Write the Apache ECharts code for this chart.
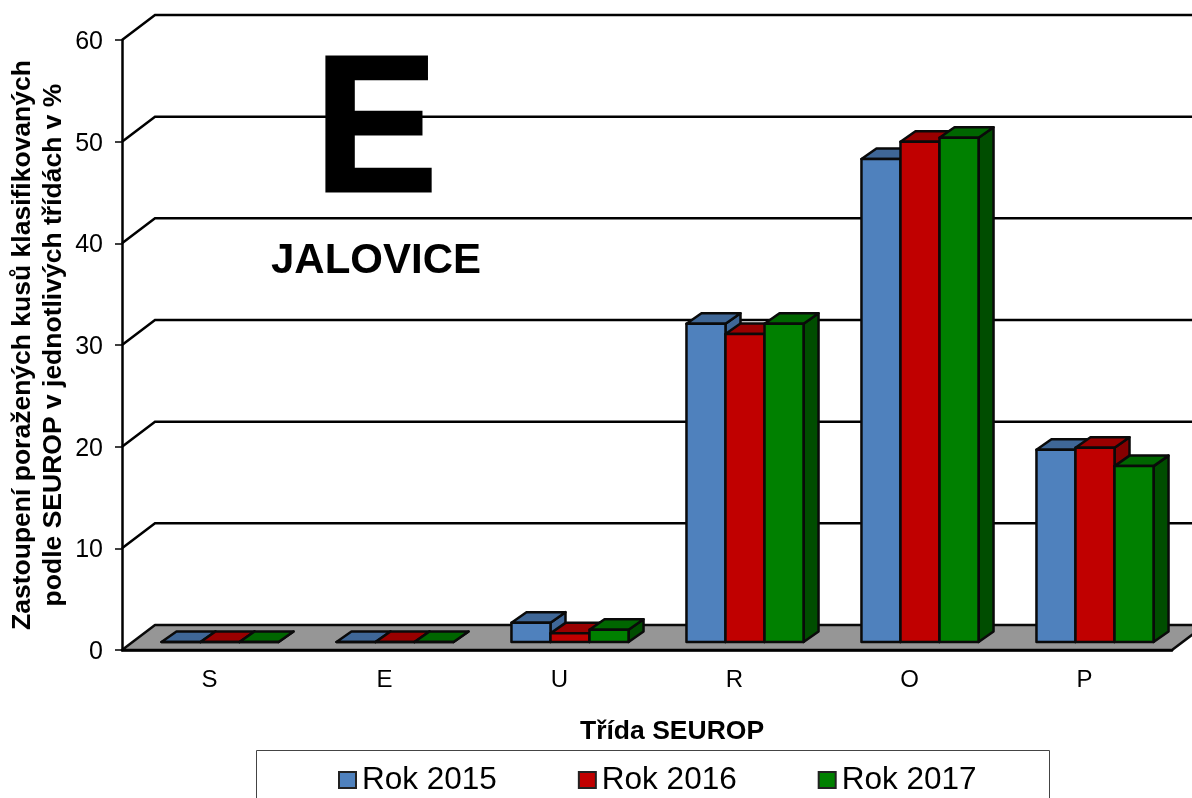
<!DOCTYPE html>
<html>
<head>
<meta charset="utf-8">
<title>JALOVICE - třída E</title>
<script src="https://cdn.jsdelivr.net/npm/echarts@6/dist/echarts.min.js"></script>
<style>
html,body{margin:0;padding:0;background:#fff;overflow:hidden;}
#main{width:1192px;height:798px;}
</style>
</head>
<body>
<div id="main"></div>
<script>
const categories = ['S', 'E', 'U', 'R', 'O', 'P'];
const yTicks = [0, 10, 20, 30, 40, 50, 60];
const rok2015 = [0, 0, 1.9, 31.3, 47.5, 18.9];
const rok2016 = [0, 0, 0.85, 30.3, 49.2, 19.1];
const rok2017 = [0, 0, 1.2, 31.3, 49.6, 17.3];

const font = '"Liberation Sans", Arial, sans-serif';
const wall = [33, -25];      // posun zadni steny
const barShift = [10.5, -8]; // sloupce stoji uprostred podlahy
const barDepth = [15, -10.5];
const barShare = 0.223;      // sirka sloupce vuci kategorii
const lineStyle = { stroke: '#000', lineWidth: 2.5, fill: null };

const years = [
    { name: 'Rok 2015', values: rok2015, front: '#4F81BD', top: '#3F6797', side: '#3F6797' },
    { name: 'Rok 2016', values: rok2016, front: '#C00000', top: '#990000', side: '#850000' },
    { name: 'Rok 2017', values: rok2017, front: '#008000', top: '#006600', side: '#004D00' }
];

function poly(points, fill) {
    return { type: 'polygon', shape: { points: points }, style: { fill: fill, stroke: '#0a0a0a', lineWidth: 2.5, lineJoin: 'round' } };
}

// podlaha
function renderFloor(params, api) {
    const c = params.coordSys;
    const y = api.coord([0, 0])[1];
    return poly([
        [c.x, y],
        [c.x + wall[0], y + wall[1]],
        [c.x + c.width + wall[0], y + wall[1]],
        [c.x + c.width, y]
    ], '#969696');
}

// mrizka na zadni stene
function renderWall(params, api) {
    const c = params.coordSys;
    const y = api.coord([0, api.value(1)])[1];
    return {
        type: 'polyline',
        shape: { points: [[c.x, y], [c.x + wall[0], y + wall[1]], [c.x + c.width + wall[0], y + wall[1]]] },
        style: lineStyle
    };
}

// kvadr jednoho sloupce
function makeBar(index) {
    return function (params, api) {
        const cat = api.value(0);
        const top = api.coord([cat, api.value(1)]);
        const base = api.coord([cat, 0]);
        const w = api.size([1, 0])[0] * barShare;
        const l = top[0] + barShift[0] + (index - 1.5) * w;
        const r = l + w;
        const t = top[1] + barShift[1];
        const b = base[1] + barShift[1];
        const dx = barDepth[0], dy = barDepth[1];
        const y = years[index];
        return {
            type: 'group',
            children: [
                poly([[r, t], [r + dx, t + dy], [r + dx, b + dy], [r, b]], y.side),
                poly([[l, t], [l + dx, t + dy], [r + dx, t + dy], [r, t]], y.top),
                poly([[l, t], [r, t], [r, b], [l, b]], y.front)
            ]
        };
    };
}

const barSeries = years.map(function (y, i) {
    return {
        name: y.name,
        type: 'custom',
        renderItem: makeBar(i),
        encode: { x: 0, y: 1 },
        itemStyle: { color: y.front },
        data: y.values.map(function (v, k) { return [k, v]; }),
        z: 5 + i
    };
});

const myChart = echarts.init(document.getElementById('main'));
myChart.setOption({
    animation: false,
    textStyle: { fontFamily: font, color: '#000' },
    grid: { left: 122, top: 40, width: 1050, height: 610, outerBoundsMode: 'none' },
    xAxis: {
        type: 'category',
        data: categories,
        axisLine: { lineStyle: { color: '#000', width: 2.5 } },
        axisTick: { length: 8, lineStyle: { color: '#000', width: 1 } },
        axisLabel: { fontSize: 24, margin: 18, color: '#000', fontFamily: font },
        z: 10
    },
    yAxis: {
        type: 'value',
        min: 0,
        max: 60,
        interval: 10,
        splitLine: { show: false },
        axisLine: { show: true, onZero: false, lineStyle: { color: '#000', width: 2.5 } },
        axisTick: { show: true, length: 7, lineStyle: { color: '#000', width: 1.5 } },
        axisLabel: {
            margin: 19,
            formatter: '{v|{value}}',
            rich: { v: { fontSize: 25, color: '#000', fontFamily: font, padding: [4, 0, 0, 0] } }
        },
        name: 'Zastoupení poražených kusů klasifikovaných\npodle SEUROP v jednotlivých třídách v %',
        nameLocation: 'middle',
        nameRotate: 90,
        nameGap: 53,
        nameMoveOverlap: false,
        nameTextStyle: { fontSize: 26.5, fontWeight: 'bold', lineHeight: 31, color: '#000', fontFamily: font },
        z: 10
    },
    legend: {
        left: 338,
        top: 764,
        itemWidth: 17,
        itemHeight: 16,
        itemGap: 81,
        padding: 0,
        textStyle: { fontSize: 31.5, color: '#000', fontFamily: font, padding: [0, 0, 0, 1] },
        data: years.map(function (y) {
            return { name: y.name, icon: 'rect', itemStyle: { color: y.front, borderColor: '#222', borderWidth: 2 } };
        })
    },
    graphic: [
        { type: 'text', left: 313, top: 38, scaleX: 0.96, scaleY: 1.015, style: { text: 'E', font: 'bold 192px ' + font, fill: '#000', stroke: '#000', lineWidth: 3 } },
        { type: 'text', left: 271, top: 240, style: { text: 'JALOVICE', font: 'bold 42px ' + font, fill: '#000' } },
        { type: 'text', left: 580, top: 718, style: { text: 'Třída SEUROP', font: 'bold 26.5px ' + font, fill: '#000' } },
        { type: 'rect', shape: { x: 256.5, y: 750.5, width: 793, height: 80 }, style: { fill: null, stroke: '#444', lineWidth: 1 } }
    ],
    series: [
        { type: 'custom', renderItem: renderFloor, encode: { x: 0, y: 1 }, data: [[0, 0]], z: 1, silent: true },
        { type: 'custom', renderItem: renderWall, encode: { x: 0, y: 1 }, data: yTicks.slice(1).map(function (t) { return [0, t]; }), z: 2, silent: true }
    ].concat(barSeries)
});
</script>
</body>
</html>
